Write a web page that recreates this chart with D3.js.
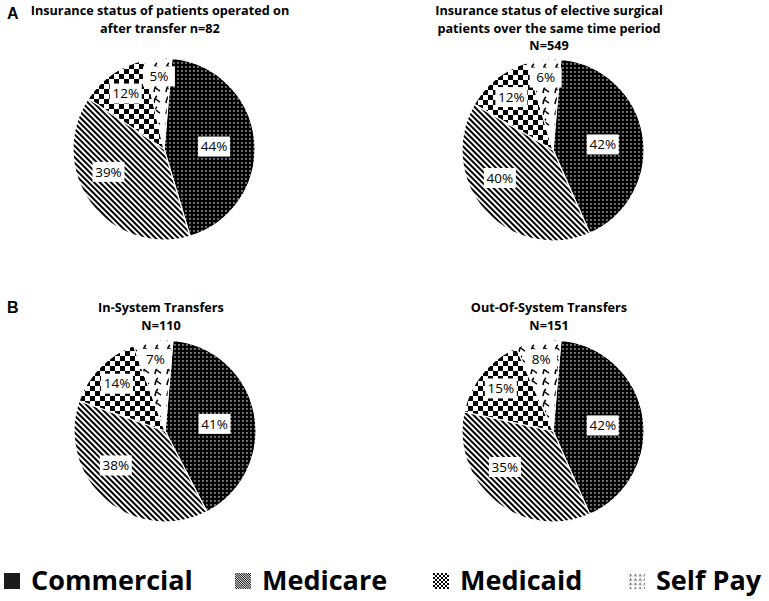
<!DOCTYPE html>
<html>
<head>
<meta charset="utf-8">
<style>
  body { margin: 0; background: #fff; }
  svg { display: block; }
  .title { font-family: "Open Sans", sans-serif; font-weight: bold; font-size: 12.7px; fill: #000; }
  .panel { font-family: "Liberation Sans", Arial, sans-serif; font-weight: bold; fill: #000; }
  .lbl { font-family: "Open Sans", sans-serif; font-size: 13.5px; fill: #000; }
  .legend text { font-family: "Open Sans", sans-serif; font-weight: bold; font-size: 27px; fill: #000; }
</style>
</head>
<body>
<svg width="769" height="601"></svg>
<script src="https://d3js.org/d3.v7.min.js"></script>
<script>

// ---- data ----
var categories = ["Commercial", "Medicare", "Medicaid", "Self Pay"];

var transferOperated = [44, 39, 12, 5];
var electiveSurgical = [42, 40, 12, 6];
var inSystem = [41, 38, 14, 7];
var outOfSystem = [42, 35, 15, 8];

var titleTransferOperated = ["Insurance status of patients operated on", "after transfer n=82"];
var titleElective = ["Insurance status of elective surgical", "patients over the same time period", "N=549"];
var titleInSystem = ["In-System Transfers", "N=110"];
var titleOutOfSystem = ["Out-Of-System Transfers", "N=151"];

var panelLetters = ["A", "B"];

// ---- layout ----
var svg = d3.select("svg");
var R = 91;
var deg = Math.PI / 180;

var charts = [
  { values: transferOperated, title: titleTransferOperated, cx: 164, cy: 149, ty: 15 },
  { values: electiveSurgical, title: titleElective, cx: 553, cy: 150, ty: 15 },
  { values: inSystem, title: titleInSystem, cx: 165, cy: 431, ty: 312 },
  { values: outOfSystem, title: titleOutOfSystem, cx: 553, cy: 431, ty: 312 }
];

// where Excel dropped the data labels (fraction of radius, extra degrees)
var labelR = [0.55, 0.66, 0.74, 0.80];
var labelShift = [3, 14, 0, 0];

// ---- fill patterns ----
var defs = svg.append("defs");

function makePatterns(suffix, k) {
  // Commercial: black with white dots
  var p = defs.append("pattern").attr("id", "commercial" + suffix)
    .attr("patternUnits", "userSpaceOnUse").attr("width", 4 * k).attr("height", 4 * k);
  p.append("rect").attr("width", 4 * k).attr("height", 4 * k).attr("fill", "#000");
  p.append("rect").attr("x", 1.3 * k).attr("y", 1.3 * k).attr("width", 1.3 * k).attr("height", 1.3 * k).attr("fill", "#fff");

  // Medicare: diagonal stripes running top-left to bottom-right
  p = defs.append("pattern").attr("id", "medicare" + suffix)
    .attr("patternUnits", "userSpaceOnUse").attr("width", 4 * k).attr("height", 4 * k)
    .attr("patternTransform", "rotate(45)");
  p.append("rect").attr("width", 4 * k).attr("height", 4 * k).attr("fill", "#fff");
  p.append("rect").attr("width", 4 * k).attr("height", 2 * k).attr("fill", "#000");

  // Medicaid: checkerboard
  p = defs.append("pattern").attr("id", "medicaid" + suffix)
    .attr("patternUnits", "userSpaceOnUse").attr("width", 10 * k).attr("height", 10 * k);
  p.append("rect").attr("width", 10 * k).attr("height", 10 * k).attr("fill", "#fff");
  p.append("rect").attr("width", 5 * k).attr("height", 5 * k).attr("fill", "#000");
  p.append("rect").attr("x", 5 * k).attr("y", 5 * k).attr("width", 5 * k).attr("height", 5 * k).attr("fill", "#000");

  // Self Pay: sparse little squiggles
  p = defs.append("pattern").attr("id", "selfpay" + suffix)
    .attr("patternUnits", "userSpaceOnUse").attr("width", 12 * k).attr("height", 11 * k);
  p.append("rect").attr("width", 12 * k).attr("height", 11 * k).attr("fill", "#fff");
  p.append("path")
    .attr("d", "M2,9 Q3,3 5,2 M4,5 Q6,7 8,8")
    .attr("transform", "scale(" + k + ")")
    .attr("fill", "none").attr("stroke", "#000").attr("stroke-width", 1.6);
}
makePatterns("", 1);
makePatterns("-s", 0.4);

var fillIds = ["commercial", "medicare", "medicaid", "selfpay"];

// ---- pies ----
var pie = d3.pie().sort(null).startAngle(5 * deg).endAngle(365 * deg);
var arc = d3.arc().innerRadius(0).outerRadius(R);

charts.forEach(function(c) {
  var g = svg.append("g").attr("transform", "translate(" + c.cx + "," + c.cy + ")");
  var arcs = pie(c.values);

  g.selectAll("path.slice")
    .data(arcs)
    .join("path")
    .attr("class", "slice")
    .attr("d", arc)
    .attr("fill", function(d, i) { return "url(#" + fillIds[i] + ")"; })
    .attr("stroke", "#fff")
    .attr("stroke-width", 1.2);

  var lab = g.selectAll("g.lbl")
    .data(arcs)
    .join("g")
    .attr("class", "lbl")
    .attr("transform", function(d, i) {
      var a = (d.startAngle + d.endAngle) / 2 + labelShift[i] * deg;
      var r = R * labelR[i];
      return "translate(" + (Math.sin(a) * r) + "," + (-Math.cos(a) * r) + ")";
    });

  lab.append("rect")
    .attr("x", -16).attr("y", -10).attr("width", 32).attr("height", 20)
    .attr("fill", "#fff");
  lab.append("text")
    .attr("text-anchor", "middle")
    .attr("dy", "0.35em")
    .text(function(d) { return d.data + "%"; });

  svg.append("text")
    .attr("class", "title")
    .attr("text-anchor", "middle")
    .attr("x", c.cx - 4)
    .attr("y", c.ty)
    .selectAll("tspan")
    .data(c.title)
    .join("tspan")
    .attr("x", c.cx - 4)
    .attr("dy", function(d, i) { return i ? 17.5 : 0; })
    .text(function(d) { return d; });
});

svg.append("text").attr("class", "panel").attr("x", 7).attr("y", 19)
  .attr("font-size", 16).text(panelLetters[0]);
svg.append("text").attr("class", "panel").attr("x", 7).attr("y", 313)
  .attr("font-size", 16).text(panelLetters[1]);

// ---- legend ----
var legendX = [4, 235, 433, 629];
var legend = svg.append("g").attr("class", "legend")
  .selectAll("g")
  .data(categories)
  .join("g")
  .attr("transform", function(d, i) { return "translate(" + legendX[i] + ",573)"; });

legend.append("rect")
  .attr("width", 16).attr("height", 16)
  .attr("fill", function(d, i) { return "url(#" + fillIds[i] + "-s)"; });
legend.append("text")
  .attr("x", 27).attr("y", 17)
  .text(function(d) { return d; });

</script>
</body>
</html>
